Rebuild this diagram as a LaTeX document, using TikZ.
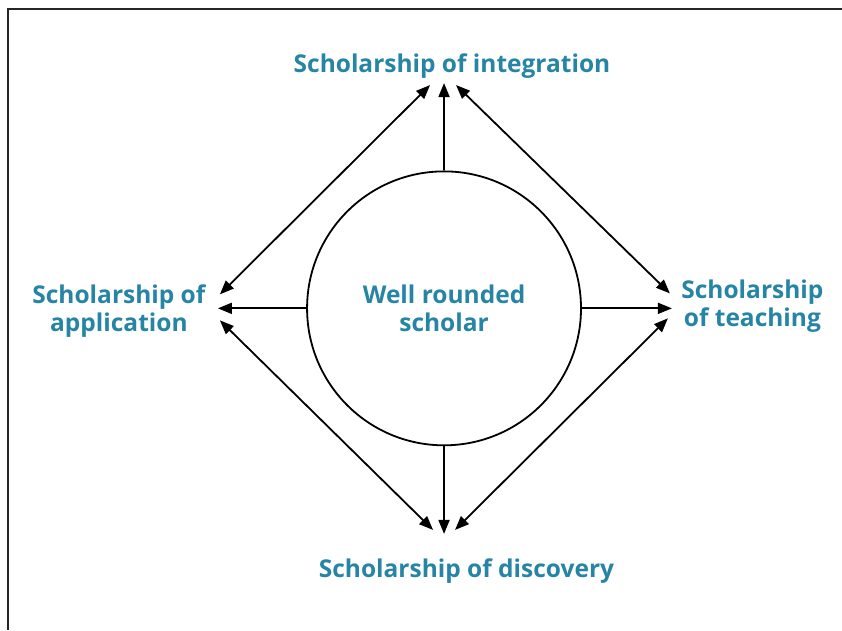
\documentclass[tikz,border=0pt]{standalone}
\usepackage{fontspec}
\setmainfont{Open Sans}
\usepackage{tikz}
\usepackage{xcolor}
\usetikzlibrary{arrows.meta}

\definecolor{scholarblue}{RGB}{38,132,165}

\tikzset{
  labeltext/.style={font=\bfseries\fontsize{24.5}{28.5}\selectfont, text=scholarblue, align=center, inner sep=0pt},
  link/.style={line width=1.8pt, -{Triangle[length=14pt,width=11pt]}},
  twolink/.style={line width=1.8pt, {Triangle[length=14pt,width=11pt]}-{Triangle[length=14pt,width=11pt]}}
}

\begin{document}
\begin{tikzpicture}

\useasboundingbox (0cm,0cm) rectangle (29.60cm,-22.15cm);
\draw [line width=2pt, color=black!85] (0.28cm,-22.15cm) -- (0.28cm,-0.33cm) -- (29.60cm,-0.33cm);

\node [draw, circle, line width=1.8pt, minimum size=9.63cm, labeltext] (scholar) at (15.61cm,-10.84cm) {Well rounded\\scholar};

\node [labeltext] (integ) at (15.89cm,-2.34cm) {Scholarship of integration};
\node [labeltext] (appl) at (4.18cm,-10.93cm) {Scholarship of\\application};
\node [labeltext] (teach) at (26.45cm,-10.76cm) {Scholarship\\of teaching};
\node [labeltext] (disc) at (16.40cm,-20.09cm) {Scholarship of discovery};

\coordinate (integ-in) at (15.61cm,-2.92cm);
\coordinate (appl-in) at (7.66cm,-10.84cm);
\coordinate (teach-in) at (23.62cm,-10.84cm);
\coordinate (disc-in) at (15.61cm,-18.77cm);

\draw [link] (scholar.north) -- (integ-in);
\draw [link] (scholar.west) -- (appl-in);
\draw [link] (scholar.east) -- (teach-in);
\draw [link] (scholar.south) -- (disc-in);

\draw [twolink] ([xshift=2pt,yshift=14pt]appl-in) -- ([xshift=-14pt,yshift=-2pt]integ-in);
\draw [twolink] ([xshift=12pt,yshift=-2pt]integ-in) -- ([xshift=-2pt,yshift=15pt]teach-in);
\draw [twolink] ([xshift=2pt,yshift=-12pt]appl-in) -- ([xshift=-11pt,yshift=4pt]disc-in);
\draw [twolink] ([xshift=11pt,yshift=4pt]disc-in) -- ([xshift=-4pt,yshift=-10pt]teach-in);

\end{tikzpicture}
\end{document}
